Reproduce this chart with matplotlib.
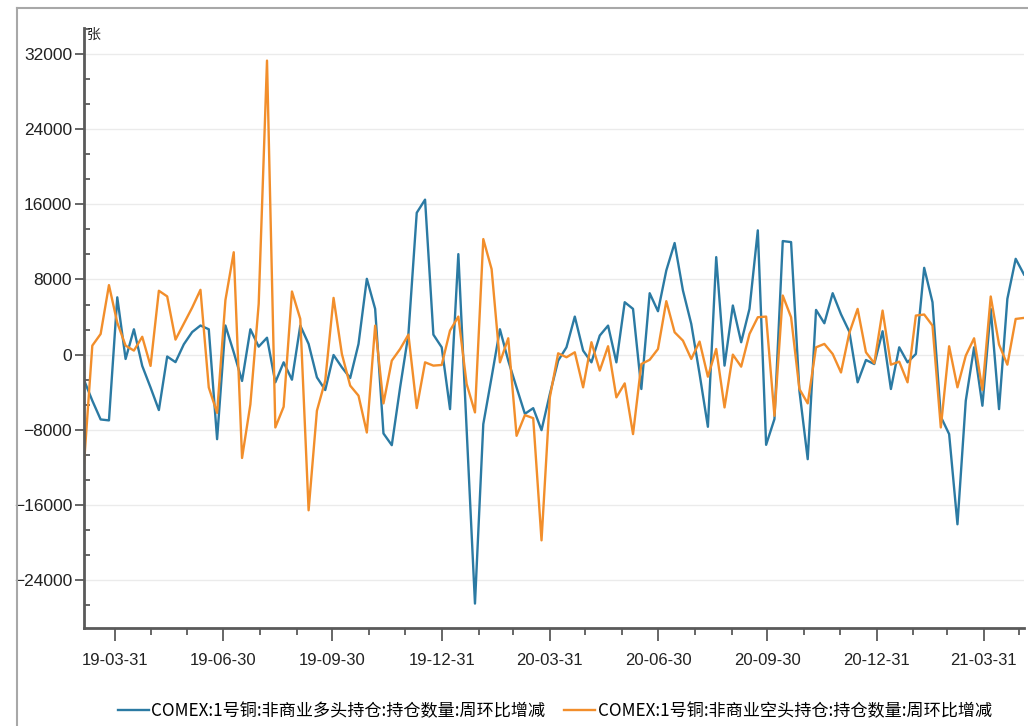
import pandas as pd
import matplotlib
matplotlib.use('Agg')
import matplotlib.pyplot as plt
import matplotlib.dates as mdates
from matplotlib.ticker import AutoMinorLocator
from matplotlib.lines import Line2D

# weekly CFTC dates (Tuesday reports)
dates = pd.date_range('2019-03-05', periods=114, freq='7D')

# COMEX copper, non-commercial long positions, week-on-week change (contracts)
long_chg = [
    -2700, -4900, -6900, -7000, 6100, -460, 2700, -1200, -3500, -5900,
    -200, -800, 1100, 2400, 3100, 2700, -9000, 3100, 250, -2800,
    2700, 850, 1800, -2950, -820, -2670, 3090, 1140, -2420, -3770,
    -40, -1350, -2490, 1140, 8070, 4870, -8390, -9640, -3500, 2200,
    15100, 16500, 2130, 780, -5800, 10700, -8000, -26500, -7400, -2400,
    2700, -640, -3500, -6300, -5700, -8040, -4200, -640, 780, 4050,
    430, -820, 2030, 3090, -820, 5580, 4870, -3660, 6540, 4620,
    8960, 11880, 6830, 3270, -2060, -7680, 10380, -1170, 5230, 1320,
    4870, 13230, -9600, -6860, 12090, 11980, -3840, -11130, 4760, 3340,
    6540, 4300, 2450, -2950, -570, -1000, 2490, -3660, 780, -820,
    70, 9240, 5580, -6610, -8460, -18060, -4910, 780, -5440, 4870,
    -5800, 5940, 10200, 8530,
]

# COMEX copper, non-commercial short positions, week-on-week change (contracts)
short_chg = [
    -11640, 960, 2200, 7400, 3400, 960, 430, 1900, -1200, 6800,
    6200, 1600, 3300, 5000, 6900, -3500, -6200, 5800, 10900, -11000,
    -5300, 5400, 31300, -7750, -5550, 6720, 3800, -16570, -5970, -2770,
    6040, 70, -3300, -4370, -8290, 3090, -5190, -640, 600, 2130,
    -5690, -820, -1170, -1100, 2560, 4050, -3130, -6150, 12300, 9100,
    -820, 1740, -8640, -6440, -6760, -19770, -4550, 140, -280, 250,
    -3480, 1320, -1700, 890, -4550, -3060, -8460, -1000, -550, 600,
    5690, 2380, 1490, -460, 1390, -2350, 600, -5620, 0, -1280,
    2200, 3980, 4050, -6510, 6290, 3980, -3660, -5190, 780, 1140,
    70, -1900, 2300, 4870, 250, -920, 4690, -1070, -750, -2950,
    4160, 4270, 3090, -7750, 890, -3480, -110, 1740, -3770, 6190,
    1070, -1070, 3800, 3910,
]

long_label = 'COMEX:1号铜:非商业多头持仓:持仓数量:周环比增减'
short_label = 'COMEX:1号铜:非商业空头持仓:持仓数量:周环比增减'
unit_label = '张'
y_ticks = [-24000, -16000, -8000, 0, 8000, 16000, 24000, 32000]

NUM_FONT = ['Liberation Sans', 'DejaVu Sans']
CJK_FONT = ['Noto Sans CJK SC', 'DejaVu Sans']
AXIS_GREY = '#5a5a5a'

fig = plt.figure(figsize=(10.28, 7.26), dpi=100)
ax = fig.add_axes([84 / 1028, 98 / 726, 940 / 1028, 600 / 726])

ax.plot(dates, long_chg, color='#2b7aa3', lw=1.7, label=long_label)
ax.plot(dates, short_chg, color='#f28e2b', lw=1.7, label=short_label)

ax.set_xlim(dates[0], dates[-1])
ax.set_ylim(-29100, 34770)

# y axis: majors out, minors in
ax.set_yticks(y_ticks)
ax.yaxis.set_minor_locator(AutoMinorLocator(3))
ax.tick_params(axis='y', which='major', direction='out', length=6.5, width=1.3,
               color=AXIS_GREY, pad=2, labelsize=12.5, labelcolor='#222222')
ax.tick_params(axis='y', which='minor', direction='in', length=4, width=1.3,
               color=AXIS_GREY)

# x axis: quarter-end labels, month-end minor ticks
q_ends = pd.date_range('2019-03-31', '2021-03-31', freq='QE')
m_ends = pd.date_range('2019-03-31', '2021-04-30', freq='ME')
ax.set_xticks(q_ends)
ax.set_xticks(m_ends, minor=True)
ax.xaxis.set_major_formatter(mdates.DateFormatter('%y-%m-%d'))
ax.tick_params(axis='x', which='major', direction='out', length=9, width=1.3,
               color=AXIS_GREY, pad=9, labelsize=12, labelcolor='#222222')
ax.tick_params(axis='x', which='minor', direction='out', length=5, width=1.3,
               color=AXIS_GREY)

for lab in ax.get_xticklabels() + ax.get_yticklabels():
    lab.set_family(NUM_FONT)

ax.grid(axis='y', which='major', color='#ebebeb', lw=1)
ax.set_axisbelow(True)
for side in ['top', 'right']:
    ax.spines[side].set_visible(False)
for side in ['left', 'bottom']:
    ax.spines[side].set_color(AXIS_GREY)
    ax.spines[side].set_linewidth(2)

ax.text(0.003, 1.0, unit_label, transform=ax.transAxes, ha='left', va='top',
        fontsize=10, family=CJK_FONT, color='#222222')

fig.legend(loc='center', bbox_to_anchor=(555 / 1028, 15 / 726), ncol=2,
           frameon=False, handlelength=1.8, handletextpad=0.15,
           columnspacing=1.1, prop={'family': CJK_FONT, 'size': 12.3})

# outer frame of the original screenshot
fig.add_artist(Line2D([17 / 1028, 17 / 1028], [0, 1 - 8 / 726],
                      transform=fig.transFigure, color='#a8a8a8', lw=1.5))
fig.add_artist(Line2D([17 / 1028, 1], [1 - 8 / 726, 1 - 8 / 726],
                      transform=fig.transFigure, color='#a8a8a8', lw=1.5))

fig.savefig('out.png', dpi=100)
